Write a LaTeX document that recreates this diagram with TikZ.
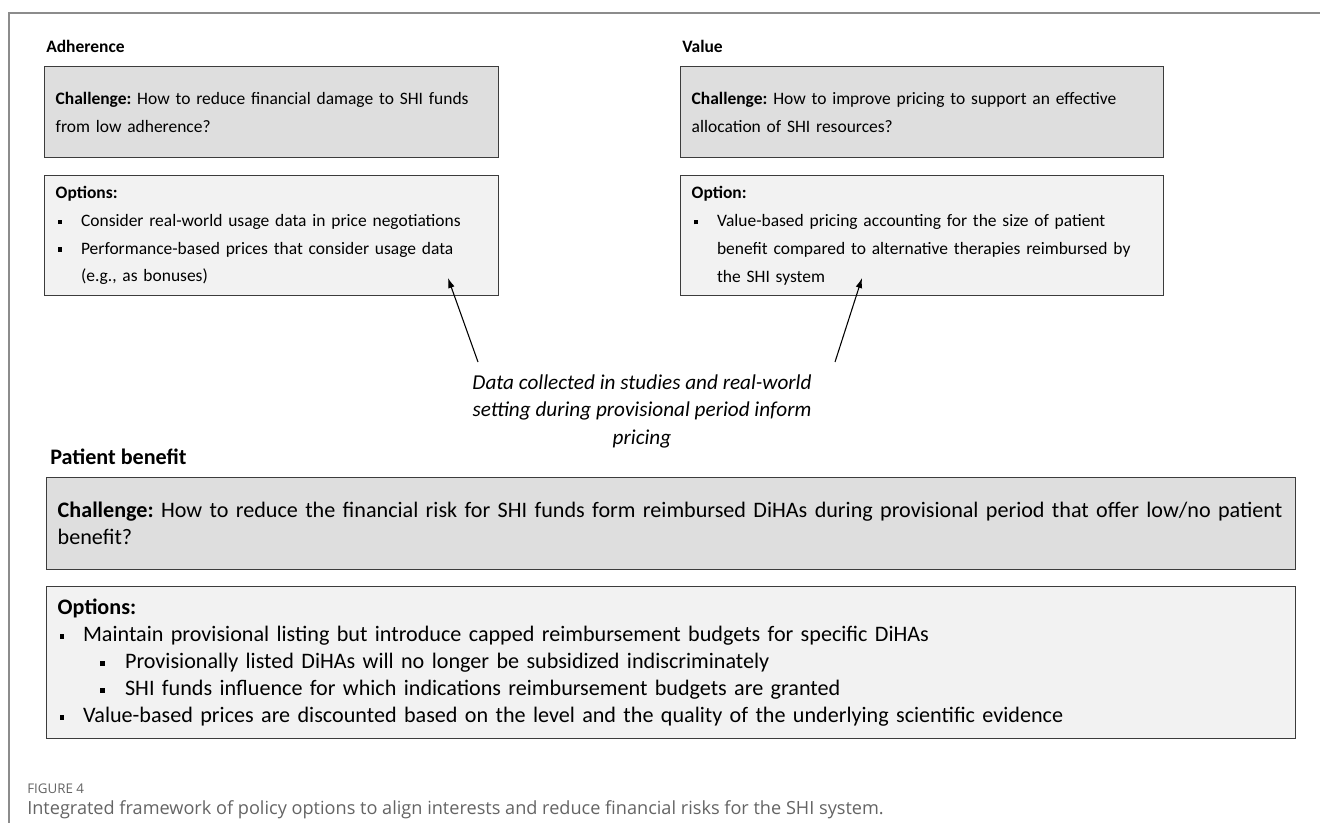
\documentclass[tikz,border=0pt]{standalone}
\usepackage{fontspec}
\setmainfont{Carlito}
\newfontfamily\capfont{Open Sans}
\usepackage{enumitem}
\usepackage{tikz}
\usetikzlibrary{shapes,arrows,arrows.meta}
\definecolor{chgrey}{RGB}{222,222,222}
\definecolor{optgrey}{RGB}{242,242,242}
\definecolor{edgegrey}{RGB}{60,60,60}
\definecolor{framegrey}{RGB}{140,140,140}
\definecolor{capgrey}{RGB}{100,100,100}
\newcommand{\topsize}{\fontsize{13.1}{20.8}\selectfont\frenchspacing}
\newcommand{\patsize}{\fontsize{16.6}{20.2}\selectfont\frenchspacing}
\newcommand{\datasize}{\fontsize{15.9}{20.6}\selectfont}
\newcommand{\bulsq}{\rule[0.13em]{3.4pt}{3.4pt}}
\newlist{optlist}{itemize}{2}
\setlist[optlist]{nosep,labelsep=0pt,align=left}
\setlist[optlist,1]{leftmargin=19pt,labelwidth=19pt,label=\hspace{1.5pt}\bulsq}
\setlist[optlist,2]{leftmargin=31.5pt,labelwidth=31.5pt,label=\hspace{12.75pt}\bulsq}
\tikzstyle{title} = [anchor=west, font=\topsize\bfseries, inner sep=0pt]
\tikzstyle{chbox} = [rectangle, draw=edgegrey, fill=chgrey, line width=1.1pt,
    anchor=north west, align=left, inner xsep=8.25pt, inner ysep=0pt, font=\topsize]
\tikzstyle{optbox} = [chbox, fill=optgrey]
\tikzstyle{arrow} = [draw, -{Latex[length=7.5pt,width=5pt]}, line width=0.8pt]

\begin{document}
\begin{tikzpicture}[x=0.75pt, y=-0.75pt]
    \useasboundingbox (0,0) rectangle (1320,823);
    \draw[framegrey, line width=1.1pt] (1320,13) -- (9,13) -- (9,823);

    \node[title] (adhtitle) at (46,46) {Adherence};
    \node[chbox, text width=324pt, minimum height=68.25pt] (adhch) at (44,66)
        {\textbf{Challenge:} How to reduce financial damage to SHI funds\\from low adherence?};
    \node[optbox, text width=324pt, minimum height=90pt] (adhopt) at (44,175)
        {\textbf{Options:}
        \begin{optlist}
            \item Consider real-world usage data in price negotiations
            \item Performance-based prices that consider usage data\newline(e.g., as bonuses)
        \end{optlist}};

    \node[title] (valtitle) at (682,46) {Value};
    \node[chbox, text width=345.75pt, minimum height=68.25pt] (valch) at (680,66)
        {\textbf{Challenge:} How to improve pricing to support an effective\\allocation of SHI resources?};
    \node[optbox, text width=345.75pt, minimum height=90pt] (valopt) at (680,175)
        {\textbf{Option:}
        \begin{optlist}
            \item Value-based pricing accounting for the size of patient\newline benefit compared to alternative therapies reimbursed by\newline the SHI system
        \end{optlist}};

    \node[font=\datasize\itshape, align=center] (data) at (642,411)
        {Data collected in studies and real-world\\setting during provisional period inform\\pricing};
    \coordinate (adhtail) at (478,362);
    \coordinate (adhtip) at (448,278);
    \coordinate (valtail) at (835,362);
    \coordinate (valtip) at (862,278);
    \path [arrow] (adhtail) -- (adhtip);
    \path [arrow] (valtail) -- (valtip);

    \node[title, font=\patsize\bfseries] (pattitle) at (50,457) {Patient benefit};
    \node[chbox, font=\patsize, text width=920.25pt, minimum height=69pt] (patch) at (46,477)
        {\textbf{Challenge:} How to reduce the financial risk for SHI funds form reimbursed DiHAs during provisional period that offer low/no patient\\benefit?};
    \node[optbox, font=\patsize, text width=920.25pt, minimum height=114pt] (patopt) at (46,586)
        {\textbf{Options:}
        \begin{optlist}
            \item Maintain provisional listing but introduce capped reimbursement budgets for specific DiHAs
            \begin{optlist}
                \item Provisionally listed DiHAs will no longer be subsidized indiscriminately
                \item SHI funds influence for which indications reimbursement budgets are granted
            \end{optlist}
            \item Value-based prices are discounted based on the level and the quality of the underlying scientific evidence
        \end{optlist}};

    \node[anchor=west, inner sep=0pt, text=capgrey, font=\capfont\fontsize{10}{12}\selectfont] (figno) at (27,789) {FIGURE 4};
    \node[anchor=west, inner sep=0pt, text=capgrey, font=\capfont\fontsize{13.6}{16}\selectfont] (caption) at (27,810)
        {Integrated framework of policy options to align interests and reduce financial risks for the SHI system.};
\end{tikzpicture}
\end{document}
